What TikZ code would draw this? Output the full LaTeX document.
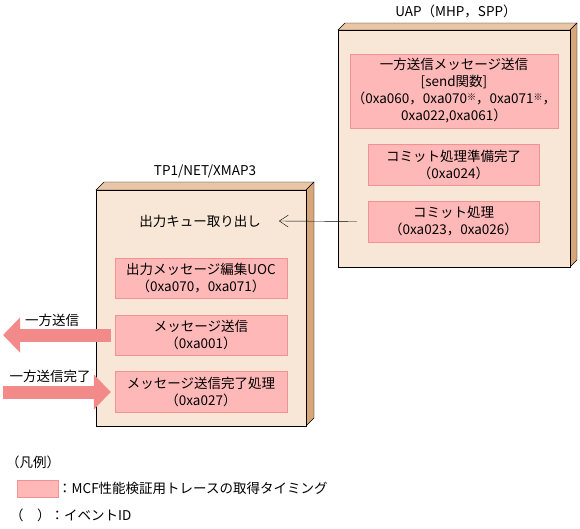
\documentclass[tikz,border=0pt]{standalone}
\usepackage{fontspec}
\setmainfont{Noto Sans CJK JP}
\usetikzlibrary{arrows.meta,positioning}
\definecolor{boxface}{RGB}{248,231,215}
\definecolor{boxtop}{RGB}{233,198,166}
\definecolor{boxside}{RGB}{214,166,120}
\definecolor{evtfill}{RGB}{255,184,184}
\definecolor{evtline}{RGB}{244,145,145}
\definecolor{fatfill}{RGB}{242,138,138}
\newcommand{\kome}{\raisebox{0.4ex}{\fontsize{9pt}{9pt}\selectfont ※}}

\begin{document}
\begin{tikzpicture}[x=1pt,y=-1pt,font=\fontsize{13.5pt}{17pt}\selectfont,
  evt/.style={draw=evtline,fill=evtfill,align=center,inner sep=0pt,
              minimum width=172pt,minimum height=41pt},
  fatarrow/.style={draw=fatfill,line width=13pt,
                   -{Triangle[length=17pt,width=34pt]}},
  plain/.style={inner sep=0pt,align=center}]
 \useasboundingbox (0,0) rectangle (580,528);

 % UAP block
 \draw[fill=boxtop] (338,30) -- (345,23) -- (577,23) -- (570,30) -- cycle;
 \draw[fill=boxside] (570,30) -- (577,23) -- (577,260) -- (570,267) -- cycle;
 \draw[fill=boxface] (338,30) rectangle (570,267);
 \node[plain] (uaptitle) at (456,11) {UAP（MHP，SPP）};

 % TP1/NET/XMAP3 block
 \draw[fill=boxtop] (96,190) -- (104,182) -- (314,182) -- (306,190) -- cycle;
 \draw[fill=boxside] (306,190) -- (314,182) -- (314,418) -- (306,426) -- cycle;
 \draw[fill=boxface] (96,190) rectangle (306,426);
 \node[plain] (tptitle) at (205,171) {TP1/NET/XMAP3};

 % events in UAP
 \node[evt,minimum width=208pt,minimum height=74pt] (oneway) at (454,91)
   {一方送信メッセージ送信\\{}{[send関数]}\\（0xa060，0xa070\kome，0xa071\kome，\\0xa022,0xa061）};
 \node[evt,minimum width=171pt] (commitprep) at (453.5,164.5)
   {コミット処理準備完了\\（0xa024）};
 \node[evt,minimum width=171pt] (commit) at (453.5,221.5)
   {コミット処理\\（0xa023，0xa026）};

 % events in TP1/NET/XMAP3
 \node[plain] (deq) at (200,221) {出力キュー取り出し};
 \node[evt,minimum height=40pt] (uoc) at (201,278)
   {出力メッセージ編集UOC\\（0xa070，0xa071）};
 \node[evt,minimum height=40pt] (msgsend) at (201,335)
   {メッセージ送信\\（0xa001）};
 \node[evt] (senddone) at (201,392)
   {メッセージ送信完了処理\\（0xa027）};

 % connectors
 \draw[-{Straight Barb[length=9pt,width=12pt]}]
   ([xshift=-11pt]commit.west) -- ([xshift=18pt]deq.east);
 \coordinate (outend) at (3,335);
 \coordinate (instart) at (3,392);
 \draw[fatarrow] ([xshift=-4pt]msgsend.west) -- (outend);
 \draw[fatarrow] (instart) -- ([xshift=-4pt]senddone.west);
 \node[plain] (lblsend) at (52,320) {一方送信};
 \node[plain] (lbldone) at (50,376) {一方送信完了};

 % legend
 \node[plain,anchor=west] (legtitle) at (6,462) {（凡例）};
 \node[draw=evtline,fill=evtfill,minimum width=41pt,minimum height=17pt,
       inner sep=0pt] (legswatch) at (37.5,488.5) {};
 \node[plain,anchor=west] (legevt) at (58,488)
   {：MCF性能検証用トレースの取得タイミング};
 \node[plain,anchor=west] (legid) at (10,515) {（　）：イベントID};
\end{tikzpicture}
\end{document}
